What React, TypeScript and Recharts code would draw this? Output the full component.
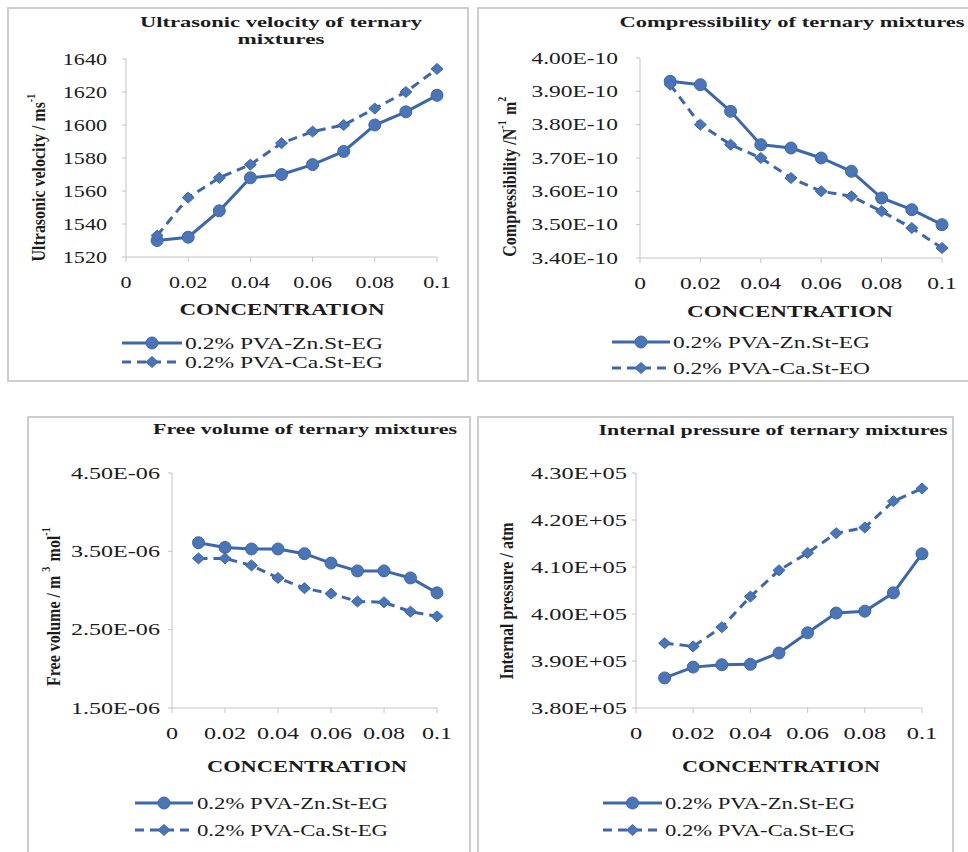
import React from 'react';
import { LineChart, Line, XAxis, YAxis } from 'recharts';

// ---------- data ----------
const concentration = [0.01, 0.02, 0.03, 0.04, 0.05, 0.06, 0.07, 0.08, 0.09, 0.1];

const velocityZn = [1530, 1532, 1548, 1568, 1570, 1576, 1584, 1600, 1608, 1618];
const velocityCa = [1533, 1556, 1568, 1576, 1589, 1596, 1600, 1610, 1620, 1634];

const compressZn = [3.93e-10, 3.92e-10, 3.84e-10, 3.74e-10, 3.73e-10, 3.70e-10, 3.66e-10, 3.58e-10, 3.545e-10, 3.50e-10];
const compressCa = [3.92e-10, 3.80e-10, 3.74e-10, 3.70e-10, 3.64e-10, 3.60e-10, 3.585e-10, 3.54e-10, 3.49e-10, 3.43e-10];

const freeVolZn = [3.61e-6, 3.55e-6, 3.53e-6, 3.53e-6, 3.47e-6, 3.35e-6, 3.25e-6, 3.25e-6, 3.16e-6, 2.97e-6];
const freeVolCa = [3.41e-6, 3.41e-6, 3.32e-6, 3.16e-6, 3.03e-6, 2.96e-6, 2.86e-6, 2.85e-6, 2.73e-6, 2.67e-6];

const pressureZn = [3.864e5, 3.887e5, 3.892e5, 3.893e5, 3.917e5, 3.96e5, 4.002e5, 4.006e5, 4.045e5, 4.128e5];
const pressureCa = [3.938e5, 3.931e5, 3.972e5, 4.037e5, 4.093e5, 4.13e5, 4.172e5, 4.184e5, 4.24e5, 4.267e5];

const xTicks = [0, 0.02, 0.04, 0.06, 0.08, 0.1];
const velocityTicks = [1520, 1540, 1560, 1580, 1600, 1620, 1640];
const compressTicks = [3.4e-10, 3.5e-10, 3.6e-10, 3.7e-10, 3.8e-10, 3.9e-10, 4.0e-10];
const freeVolTicks = [1.5e-6, 2.5e-6, 3.5e-6, 4.5e-6];
const pressureTicks = [3.8e5, 3.9e5, 4.0e5, 4.1e5, 4.2e5, 4.3e5];

const seriesZn = '0.2% PVA-Zn.St-EG';
const seriesCa = '0.2% PVA-Ca.St-EG';
const seriesCaAlt = '0.2% PVA-Ca.St-EO';
const xTitle = 'CONCENTRATION';

// ---------- styles ----------
const LINE = '#3d67ac';
const MARK = '#4a75b7';
const AXIS = '#c4c4c4';
const BORDER = '#cdcdcd';
const TEXT = '#1c1c1c';
const SERIF = "'Liberation Serif', 'Times New Roman', serif";

const sci = (v: number) => {
  const [m, e] = v.toExponential(2).split('e');
  const sign = e[0] === '-' ? '-' : '+';
  const d = e.replace(/[+-]/, '').padStart(2, '0');
  return `${m.toUpperCase()}E${sign}${d}`;
};
const plain = (v: number) => String(v);

const Diamond = (props: any) => {
  const { cx, cy } = props;
  if (cx == null || cy == null) return null;
  return (
    <polygon
      points={`${cx},${cy - 5.5} ${cx + 6},${cy} ${cx},${cy + 5.5} ${cx - 6},${cy}`}
      fill={MARK}
      stroke={LINE}
      strokeWidth={1}
    />
  );
};

type Cfg = {
  box: { l: number; t: number; w: number; h: number };
  plot: { l: number; r: number; t: number; b: number };
  zn: number[];
  ca: number[];
  ticks: number[];
  fmt: (v: number) => string;
  sx: number;
  yGap: number;
};

function Panel({ cfg }: { cfg: Cfg }) {
  const { box, plot, zn, ca, ticks, fmt, sx, yGap } = cfg;
  const data = concentration.map((c, i) => ({ c, zn: zn[i], ca: ca[i] }));
  const xh = 30;
  const margin = {
    top: plot.t - box.t,
    right: box.l + box.w - plot.r,
    bottom: box.t + box.h - plot.b - xh,
    left: 0,
  };
  const yTick = (p: any) => (
    <g transform={`translate(${p.x},${p.y}) scale(${sx},1)`}>
      <text textAnchor="end" dominantBaseline="central" fontSize={17} fontFamily={SERIF} fill={TEXT}>
        {fmt(p.payload.value)}
      </text>
    </g>
  );
  const xTick = (p: any) => (
    <g transform={`translate(${p.x},${p.y}) scale(${sx},1)`}>
      <text textAnchor="middle" y={24} fontSize={17} fontFamily={SERIF} fill={TEXT}>
        {String(p.payload.value)}
      </text>
    </g>
  );
  return (
    <div style={{ position: 'absolute', left: box.l, top: box.t }}>
      <LineChart width={box.w} height={box.h} data={data} margin={margin}>
        <XAxis
          dataKey="c"
          type="number"
          domain={[0, 0.1]}
          ticks={xTicks}
          height={xh}
          stroke={AXIS}
          tickSize={5}
          tickMargin={2}
          tick={xTick}
        />
        <YAxis
          type="number"
          domain={[ticks[0], ticks[ticks.length - 1]]}
          ticks={ticks}
          width={plot.l - box.l}
          stroke={AXIS}
          tickSize={4}
          tickMargin={yGap - 4}
          tick={yTick}
        />
        <Line
          dataKey="zn"
          type="linear"
          stroke={LINE}
          strokeWidth={3}
          dot={{ r: 6, fill: MARK, stroke: LINE, strokeWidth: 1 }}
          isAnimationActive={false}
        />
        <Line
          dataKey="ca"
          type="linear"
          stroke={LINE}
          strokeWidth={3}
          strokeDasharray="9 6"
          dot={<Diamond />}
          isAnimationActive={false}
        />
      </LineChart>
    </div>
  );
}

const panels: Cfg[] = [
  {
    box: { l: 8, t: 8, w: 462, h: 375 },
    plot: { l: 126, r: 437, t: 59, b: 257 },
    zn: velocityZn, ca: velocityCa, ticks: velocityTicks, fmt: plain, sx: 1.3, yGap: 19,
  },
  {
    box: { l: 478, t: 8, w: 490, h: 375 },
    plot: { l: 640, r: 942, t: 58, b: 258 },
    zn: compressZn, ca: compressCa, ticks: compressTicks, fmt: sci, sx: 1.38, yGap: 22,
  },
  {
    box: { l: 28, t: 417, w: 444, h: 435 },
    plot: { l: 172, r: 437, t: 473, b: 708 },
    zn: freeVolZn, ca: freeVolCa, ticks: freeVolTicks, fmt: sci, sx: 1.42, yGap: 12,
  },
  {
    box: { l: 478, t: 417, w: 477, h: 435 },
    plot: { l: 636, r: 922, t: 473, b: 708 },
    zn: pressureZn, ca: pressureCa, ticks: pressureTicks, fmt: sci, sx: 1.44, yGap: 9,
  },
];

const borders = [
  { l: 8, t: 8, w: 462, h: 375, right: true, bottom: true },
  { l: 478, t: 8, w: 500, h: 375, right: false, bottom: true },
  { l: 28, t: 417, w: 444, h: 445, right: true, bottom: false },
  { l: 478, t: 417, w: 477, h: 445, right: true, bottom: false },
];

const titles = [
  { text: 'Ultrasonic velocity of ternary', cx: 281, cy: 22, w: 282 },
  { text: 'mixtures', cx: 281, cy: 39, w: 87 },
  { text: 'Compressibility of ternary mixtures', cx: 792, cy: 22, w: 345 },
  { text: 'Free volume of ternary mixtures', cx: 305, cy: 429, w: 304 },
  { text: 'Internal pressure of ternary mixtures', cx: 773, cy: 430, w: 349 },
];

const xLabels = [
  { cx: 282, cy: 309, w: 205 },
  { cx: 790, cy: 311, w: 206 },
  { cx: 307, cy: 766, w: 200 },
  { cx: 781, cy: 766, w: 198 },
];

const legends = [
  { s1: 122, s2: 182, tx: 185, tw: 198, y1: 343, y2: 362, ca: seriesCa },
  { s1: 612, s2: 670, tx: 673, tw: 197, y1: 342, y2: 368, ca: seriesCaAlt },
  { s1: 135, s2: 193, tx: 197, tw: 191, y1: 803, y2: 830, ca: seriesCa },
  { s1: 603, s2: 662, tx: 665, tw: 190, y1: 803, y2: 830, ca: seriesCa },
];

const Sup = ({ children }: { children: string }) => (
  <>
    <tspan dy={-6} fontSize={10}>{children}</tspan>
    <tspan dy={6} fontSize={16}>{'\u200A'}</tspan>
  </>
);

function YLabel({ cx, cy, children }: { cx: number; cy: number; children: any }) {
  return (
    <g transform={`translate(${cx},${cy}) scale(1.2,1) rotate(-90)`}>
      <text textAnchor="middle" dominantBaseline="central" fontSize={16} fontWeight="bold" fontFamily={SERIF} fill={TEXT}>
        {children}
      </text>
    </g>
  );
}

function Overlay() {
  return (
    <svg width={968} height={852} style={{ position: 'absolute', left: 0, top: 0, pointerEvents: 'none' }}>
      {titles.map((t, i) => (
        <text
          key={i}
          x={t.cx - t.w / 2}
          y={t.cy}
          dominantBaseline="central"
          textLength={t.w}
          lengthAdjust="spacingAndGlyphs"
          fontSize={15}
          fontWeight="bold"
          fontFamily={SERIF}
          fill={TEXT}
        >
          {t.text}
        </text>
      ))}
      {xLabels.map((t, i) => (
        <text
          key={i}
          x={t.cx - t.w / 2}
          y={t.cy}
          dominantBaseline="central"
          textLength={t.w}
          lengthAdjust="spacingAndGlyphs"
          fontSize={17}
          fontWeight="bold"
          fontFamily={SERIF}
          fill={TEXT}
        >
          {xTitle}
        </text>
      ))}
      <YLabel cx={38} cy={177}>
        Ultrasonic velocity / ms<Sup>-1</Sup>
      </YLabel>
      <YLabel cx={509} cy={176}>
        Compressibility /N<Sup>-1</Sup> m<Sup>2</Sup>
      </YLabel>
      <YLabel cx={53} cy={606}>
        Free volume / m <Sup>3</Sup> mol<Sup>-1</Sup>
      </YLabel>
      <YLabel cx={506} cy={601}>
        Internal pressure / atm
      </YLabel>
      {legends.map((l, i) => {
        const mx = (l.s1 + l.s2) / 2;
        return (
          <g key={i}>
            <line x1={l.s1} x2={l.s2} y1={l.y1} y2={l.y1} stroke={LINE} strokeWidth={3} />
            <circle cx={mx} cy={l.y1} r={6} fill={MARK} stroke={LINE} strokeWidth={1} />
            <text x={l.tx} y={l.y1} dominantBaseline="central" textLength={l.tw} lengthAdjust="spacingAndGlyphs"
              fontSize={16} fontFamily={SERIF} fill={TEXT}>{seriesZn}</text>
            <line x1={l.s1} x2={l.s2} y1={l.y2} y2={l.y2} stroke={LINE} strokeWidth={3} strokeDasharray="9 6" />
            <polygon points={`${mx},${l.y2 - 5.5} ${mx + 6},${l.y2} ${mx},${l.y2 + 5.5} ${mx - 6},${l.y2}`}
              fill={MARK} stroke={LINE} strokeWidth={1} />
            <text x={l.tx} y={l.y2} dominantBaseline="central" textLength={l.tw} lengthAdjust="spacingAndGlyphs"
              fontSize={16} fontFamily={SERIF} fill={TEXT}>{l.ca}</text>
          </g>
        );
      })}
    </svg>
  );
}

export default function App() {
  return (
    <div style={{ position: 'absolute', left: 0, top: 0, width: 968, height: 852, background: '#fff', overflow: 'hidden' }}>
      {borders.map((b, i) => (
        <div
          key={i}
          style={{
            position: 'absolute',
            left: b.l - 1,
            top: b.t - 1,
            width: b.w,
            height: b.h,
            borderTop: `2px solid ${BORDER}`,
            borderLeft: `2px solid ${BORDER}`,
            borderRight: b.right ? `2px solid ${BORDER}` : 'none',
            borderBottom: b.bottom ? `2px solid ${BORDER}` : 'none',
            boxSizing: 'border-box',
          }}
        />
      ))}
      {panels.map((p, i) => (
        <Panel key={i} cfg={p} />
      ))}
      <Overlay />
    </div>
  );
}
